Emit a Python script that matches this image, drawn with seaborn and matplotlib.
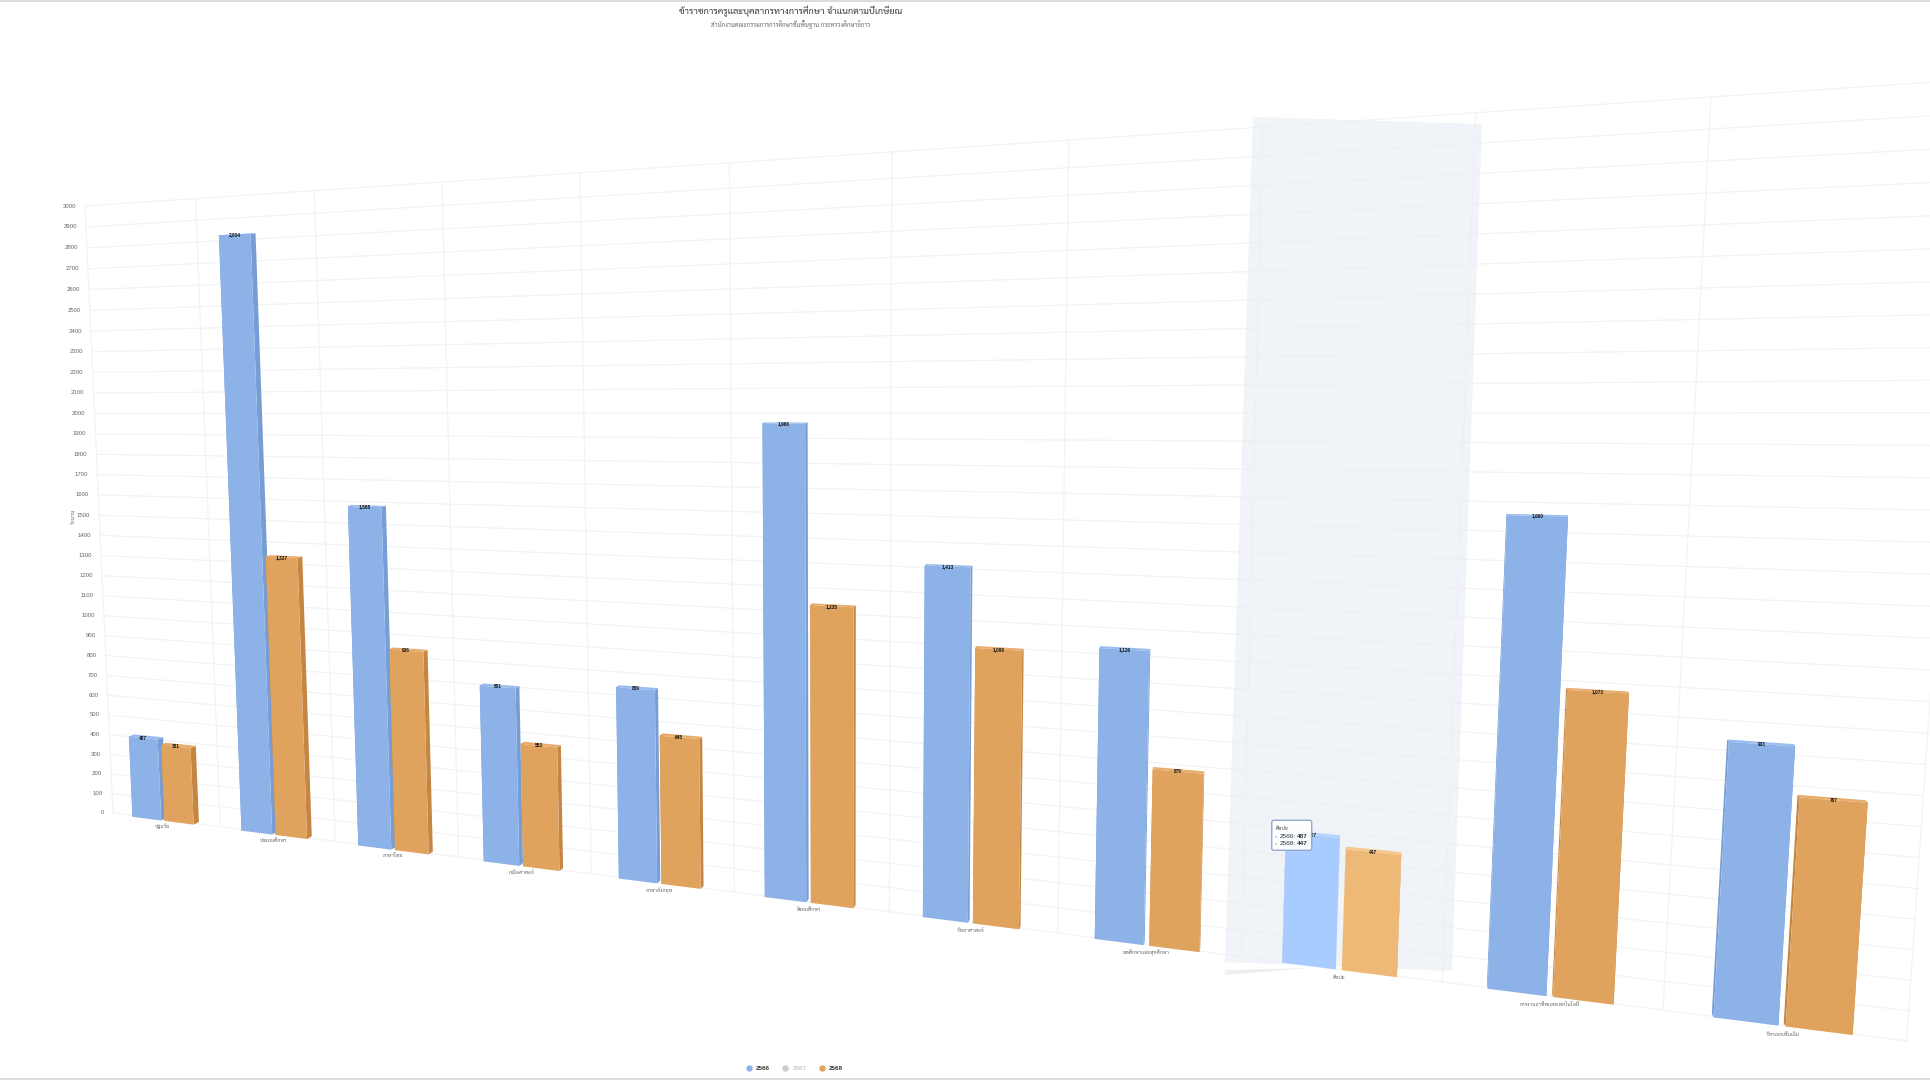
import numpy as np
import pandas as pd
import matplotlib
matplotlib.use("Agg")
import matplotlib.pyplot as plt
import matplotlib.transforms as mtransforms
from matplotlib.lines import Line2D
from matplotlib.patches import Polygon, FancyBboxPatch
import seaborn as sns

# ---- data ------------------------------------------------------------------
categories = ["ปฐมวัย", "ประถมศึกษา", "ภาษาไทย", "คณิตศาสตร์", "ภาษาอังกฤษ", "สังคมศึกษา",
              "วิทยาศาสตร์", "พลศึกษาและสุขศึกษา", "ศิลปะ", "การงานอาชีพและเทคโนโลยี", "วิชาเอกเพิ่มเติม"]
values_2566 = [407, 2834, 1585, 801, 839, 1966, 1413, 1126, 487, 1660, 933]
values_2568 = [381, 1337, 936, 553, 645, 1235, 1099, 679, 447, 1073, 767]
years = ["2566", "2568"]
legend_years = ["2566", "2567", "2568"]
y_ticks = list(range(0, 3100, 100))
title = "ข้าราชการครูและบุคลากรทางการศึกษา จำแนกตามปีเกษียณ"
subtitle = "สำนักงานคณะกรรมการการศึกษาขั้นพื้นฐาน กระทรวงศึกษาธิการ"
y_title = "จำนวน"
highlighted = 8

# ---- style -----------------------------------------------------------------
W, H_PX = 1930, 1080
sns.set_theme(style="white")
FONT = ["Liberation Sans", "Sarabun", "Noto Sans Thai", "DejaVu Sans"]
plt.rcParams["font.family"] = FONT
colors = {"2566": "#8db2e8", "2568": "#e0a35e"}
side_colors = {"2566": "#769dd4", "2568": "#c58642"}
top_colors = {"2566": "#98bcee", "2568": "#e8ad6c"}
hover_colors = {"2566": "#a8ccff", "2568": "#eeb976"}
hover_top = {"2566": "#b6d6ff", "2568": "#f6c88c"}
grid_color = "#f3f3f5"


class Projective(mtransforms.Transform):
    """Plane-to-screen perspective mapping given by a 3x3 matrix."""
    input_dims = output_dims = 2
    is_separable = False
    has_inverse = False

    def __init__(self, matrix):
        super().__init__()
        self.matrix = matrix

    def transform_non_affine(self, values):
        pts = np.column_stack([np.asarray(values, float), np.ones(len(values))]) @ self.matrix.T
        out = pts[:, :2] / pts[:, 2:]
        out[:, 1] = H_PX - out[:, 1]
        return out


def plane_matrix(src, dst):
    rows, rhs = [], []
    for (x, y), (u, v) in zip(src, dst):
        rows.append([x, y, 1, 0, 0, 0, -u * x, -u * y])
        rows.append([0, 0, 0, x, y, 1, -v * x, -v * y])
        rhs += [u, v]
    return np.append(np.linalg.solve(np.array(rows, float), np.array(rhs, float)), 1).reshape(3, 3)


# tilted camera: one plane for the wall grid, one just in front of it for the columns
corners = [(-0.5, 0), (9.5, 0), (9.5, 3000), (-0.5, 3000)]
proj = Projective(plane_matrix(corners, [(113, 813), (1663, 1010), (1711, 97), (85, 206)]))
bar_proj = Projective(plane_matrix(corners, [(110, 814), (1663, 1011), (1711, 99), (82, 208)]))
# the hover band sits on a plane of its own
band_corners = [(7.5, 0), (8.5, 0), (8.5, 3000), (7.5, 3000)]
band_proj = Projective(plane_matrix(band_corners, [(1225, 962), (1452, 971), (1482, 124), (1253, 117)]))
# column depth: rear faces shrink towards the vanishing centre
depth_centre = np.array([1350.0, H_PX - 220.0])
depth_scale = 0.9955


def rear(points):
    return depth_centre + depth_scale * (points - depth_centre)


fig = plt.figure(figsize=(W / 100, H_PX / 100), dpi=100, facecolor="white")
ax = fig.add_axes([0, 0, 1, 1])

df = pd.DataFrame({
    "category": categories * 2,
    "value": values_2566 + values_2568,
    "year": [years[0]] * len(categories) + [years[1]] * len(categories),
})
sns.barplot(data=df, x="category", y="value", hue="year", hue_order=years, order=categories,
            palette=colors, width=0.6, gap=0.1, saturation=1, legend=False, ax=ax)
ax.set_axis_off()

# grid on the wall
for v in y_ticks:
    ax.plot([-0.5, len(categories) - 0.5], [v, v], transform=proj, color=grid_color, lw=0.9, zorder=1, clip_on=False)
for edge in np.arange(-0.5, len(categories)):
    ax.plot([edge, edge], [0, 3000], transform=proj, color=grid_color, lw=0.9, zorder=1, clip_on=False)

# hover band
ax.fill([7.5, 8.5, 8.5, 7.5], [0, 0, 3000, 3000], transform=band_proj, color="#e9edf4", alpha=0.65, lw=0, zorder=2, clip_on=False)
ax.fill([7.5, 7.5, 7.88], [-46, -29, -9], transform=band_proj, color="#eceef2", lw=0, zorder=2, clip_on=False)

# columns: front faces come from seaborn, side and top faces follow from them
identity = mtransforms.IdentityTransform()
n_cat = len(categories)
for k, bar in enumerate(list(ax.patches)):
    if not isinstance(bar, matplotlib.patches.Rectangle) or bar.get_height() == 0:
        continue
    year = years[k // n_cat]
    cat = k % n_cat
    hot = cat == highlighted
    x0, w, h = bar.get_x(), bar.get_width(), bar.get_height()
    bar.set_transform(bar_proj)
    bar.set_clip_on(False)
    bar.set_zorder(5)
    bar.set_facecolor(hover_colors[year] if hot else colors[year])
    bar.set_edgecolor("none")
    bl, br, tr, tl = bar_proj.transform(np.array([[x0, 0], [x0 + w, 0], [x0 + w, h], [x0, h]], float))
    for a, b, col in [(bl, tl, side_colors[year]), (br, tr, side_colors[year]),
                      (tl, tr, (hover_top if hot else top_colors)[year])]:
        quad = np.array([a, b, rear(b), rear(a)])
        ax.add_patch(Polygon(quad, closed=True, transform=identity, facecolor=col, edgecolor="none",
                             zorder=4, clip_on=False))
    ax.text(x0 + w / 2, h, f"{int(h):,}", transform=bar_proj, ha="center", va="center", fontsize=3.4,
            fontweight="bold", color="#111111", zorder=6, clip_on=False)

# axis labels
for v in y_ticks:
    ax.annotate(str(v), xy=(-0.5, v), xycoords=proj, xytext=(-6.5, 0), textcoords="offset points",
                ha="right", va="center", fontsize=4.3, color="#666666", annotation_clip=False)
for i, name in enumerate(categories):
    ax.annotate(name, xy=(i, 0), xycoords=bar_proj, xytext=(0, -3.8 - 0.2 * i), textcoords="offset points",
                ha="center", va="center", fontsize=3.8, color="#666666", zorder=6, annotation_clip=False)

# hover tooltip, anchored to the highlighted column
tip_xy = (highlighted - 0.15, values_2566[highlighted])
tip = bar_proj.transform(np.array([tip_xy], float))[0]
box = FancyBboxPatch((tip[0] - 41, tip[1] - 15), 40, 30, boxstyle="round,pad=0,rounding_size=2", transform=identity,
                     facecolor=(1, 1, 1, 0.93), edgecolor="#93a9cc", lw=1.0, zorder=8, clip_on=False)
ax.add_patch(box)


def tip_text(dx, dy, text, **kw):
    ax.annotate(text, xy=tip_xy, xycoords=bar_proj, xytext=(dx, dy), textcoords="offset pixels",
                va="center", ha="left", zorder=9, annotation_clip=False, **kw)


tip_text(-37, 7, categories[highlighted], fontsize=3.9, color="#444444")
for row, (year, vals) in enumerate(zip(years, (values_2566, values_2568))):
    dy = -1 - row * 7
    tip_text(-38, dy, "●", fontsize=2.6, color=colors[year])
    tip_text(-33, dy, f"{year}:", fontsize=4.6, color="#333333")
    tip_text(-16, dy, str(vals[highlighted]), fontsize=4.6, fontweight="bold", color="#333333")

# titles and value-axis title
fig.text(791 / W, 1 - 11.5 / H_PX, title, ha="center", va="center", fontsize=6.6, color="#333333")
fig.text(791 / W, 1 - 24 / H_PX, subtitle, ha="center", va="center", fontsize=4.35, color="#666666")
fig.text(73 / W, 1 - 516 / H_PX, y_title, ha="center", va="center", rotation=90, fontsize=3.9, color="#666666")

# legend with the hidden year greyed out
handles = [Line2D([], [], ls="none", marker="o", ms=4.6, mec="none", mfc=c)
           for c in (colors["2566"], "#cccccc", colors["2568"])]
legend = fig.legend(handles, legend_years, loc="center", bbox_to_anchor=(795 / W, 1 - 1068 / H_PX), ncols=3,
                    frameon=False, prop={"size": 4.5, "weight": "bold", "family": FONT},
                    handlelength=0.6, handletextpad=0.9, columnspacing=2.1)
for label, c in zip(legend.get_texts(), ("#333333", "#cccccc", "#333333")):
    label.set_color(c)

# thin frame lines at the page edges
for y_line in (1 - 1.0 / H_PX, 1 - 1079.0 / H_PX):
    fig.add_artist(Line2D([0, 1], [y_line, y_line], transform=fig.transFigure, color="#dcdcdc", lw=1.4))

fig.savefig("out.png", dpi=100)
